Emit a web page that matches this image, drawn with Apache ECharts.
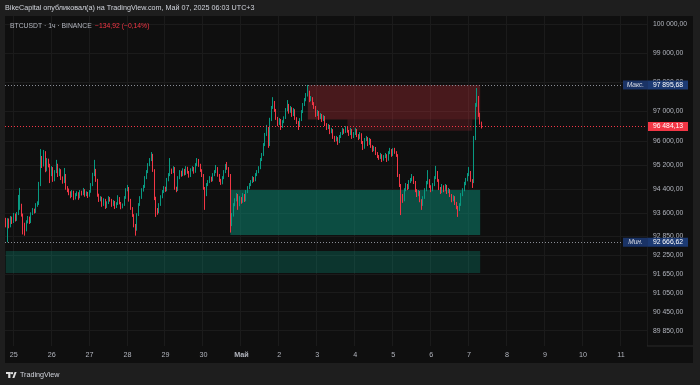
<!DOCTYPE html>
<html><head><meta charset="utf-8">
<script src="https://cdn.jsdelivr.net/npm/echarts@6/dist/echarts.min.js"></script>
<style>html,body{margin:0;padding:0;background:#1e1e1e}#c{width:700px;height:385px}</style>
</head><body><div id="c"></div>
<script>
// ---- data ----
const dayLabels = ['25','26','27','28','29','30','Май','2','3','4','5','6','7','8','9','10','11'];
const firstDayIndex = 5;      // hourly slot of Apr 25 00:00 (series starts Apr 24 19:00)
const slotCount = 406;        // hourly slots shown on the time axis
const priceTicks = [100000, 99000, 98000, 97000, 96000, 95200, 94400, 93600, 92850, 92250, 91650, 91050, 90450, 89850];
const firstOpen = 93400;
const closes = [
93230,93390,93190,93460,93320,93550,93390,93590,93780,93880,
93550,93230,93070,93320,93460,93320,93590,93720,93650,93880,
93910,94540,95430,95200,95630,95030,95370,95200,94870,95100,
94700,94970,95200,94870,95030,94770,94640,94870,94440,94370,
94270,94180,94310,94110,94210,94270,94140,94310,94240,94370,
94210,94270,94180,94310,94540,94870,95030,94700,94210,94040,
94110,93880,94040,93810,93950,94110,94040,93880,93980,93810,
93910,94110,93950,93810,93880,94110,94370,94440,94040,93780,
93550,93230,93070,93550,93880,94110,94370,94470,94770,94970,
95200,95370,95530,95030,94110,93720,93650,93880,94140,94310,
94440,94370,94700,94870,95030,94970,95100,94440,94370,94770,
94970,94870,95030,94900,95100,94970,94840,95030,95100,94970,
95200,95370,95200,95030,94870,94440,94210,94540,94640,94770,
94700,94870,94970,95100,94870,94700,94600,94770,94970,95170,
95100,94870,93230,93550,93880,94040,94210,93880,94110,93980,
94210,94040,94310,94440,94540,94640,94770,94700,94870,94970,
95100,95370,95530,95870,96200,96440,95870,96710,97110,97320,
97040,96770,96570,96710,96470,96640,96770,97040,97210,96980,
97110,96880,97040,96770,96640,96500,96710,96980,97210,97380,
97550,97660,97380,97450,97280,97150,96880,96980,96770,96880,
96710,96810,96570,96440,96500,96300,96370,96130,96030,96100,
95970,96130,96240,96370,96300,96440,96340,96230,96370,96130,
96240,96370,96200,96100,96230,95970,95770,96030,96100,95900,
96030,95830,95700,95770,95600,95500,95430,95530,95370,95470,
95530,95370,95600,95700,95530,95700,95630,95530,94870,94540,
94210,94040,94370,94540,94440,94640,94700,94800,94640,94370,
94210,94310,94040,93880,94110,94370,94600,94700,94500,94370,
94540,94770,94970,94700,94440,94310,94500,94370,94500,94310,
94370,94210,94040,94140,93950,93810,93720,93880,94210,94370,
94570,94700,94870,94970,94700,94640,96100,97210,97450,96880,
96619.05,96484.13];
const highs = [
93460,93450,93440,93520,93500,93620,93600,93650,94210,94440,
93920,93600,93300,93380,93520,93500,93640,93780,93760,93940,
94000,94640,95730,95500,95700,95660,95430,95410,95240,95160,
95130,95030,95370,95240,95090,95060,94820,95100,94900,94500,
94420,94330,94370,94350,94270,94330,94300,94370,94350,94440,
94400,94330,94310,94370,94600,94940,95370,95070,94740,94250,
94170,94150,94100,94080,94000,94170,94140,94080,94040,94010,
93970,94200,94140,93980,93930,94170,94430,94540,94470,94080,
93810,93580,93260,93610,93940,94170,94430,94540,94830,95030,
95260,95430,95630,95570,95060,94150,93780,93940,94200,94370,
94500,94480,94770,94930,95430,95080,95160,95130,94480,94830,
95030,95010,95090,95070,95160,95140,95000,95090,95160,95130,
95260,95430,95400,95240,95060,94900,94470,94600,94700,94830,
94810,94930,95030,95200,95130,94900,94740,94830,95030,95230,
95300,95130,94900,93620,93940,94100,94270,94240,94170,94140,
94270,94240,94370,94500,94600,94700,94830,94800,94930,95030,
95160,95430,95600,95930,96270,96540,96470,96780,97180,97480,
97350,97080,96810,96770,96740,96700,96830,97110,97380,97250,
97180,97140,97110,97070,96800,96670,96770,97040,97280,97450,
97620,97895.68,97700,97520,97480,97310,97180,97040,97010,96940,
96910,96870,96840,96600,96570,96540,96440,96400,96170,96170,
96130,96200,96300,96440,96410,96500,96470,96370,96440,96400,
96300,96440,96400,96230,96300,96260,96000,96100,96170,96130,
96100,96070,95860,95830,95800,95630,95530,95600,95560,95530,
95600,95560,95660,95770,95730,95760,95770,95660,95560,94900,
94570,94240,94430,94600,94570,94700,94770,94900,94830,94670,
94400,94370,94340,94070,94170,94430,94670,95030,94730,94530,
94600,94830,95170,95000,94730,94470,94570,94530,94570,94540,
94440,94400,94240,94200,94170,93980,93850,93940,94270,94430,
94640,94770,94930,95130,95000,94730,96170,97280,97790,97520,
96950,96650];
const lows = [
93150,92666.62,93120,93150,93260,93290,93340,93360,93550,93720,
93500,92920,92880,93020,93280,93260,93290,93550,93600,93620,
93820,93880,94500,95100,95150,94960,94990,95120,94600,94830,
94640,94660,94930,94800,94830,94700,94580,94600,94380,94300,
94200,94100,94140,94040,94060,94170,94050,94100,94190,94200,
94150,94170,94110,94150,94280,94500,94830,94640,94150,93980,
94000,93820,93850,93750,93780,93910,93990,93820,93850,93750,
93780,93880,93900,93740,93770,93850,94080,94330,93990,93720,
93490,93150,92880,93040,93520,93850,94080,94320,94440,94730,
94930,95160,95330,94970,94040,93490,93560,93610,93850,94100,
94270,94310,94330,94660,94830,94900,94930,94380,94300,94340,
94730,94810,94830,94850,94870,94910,94780,94800,94990,94910,
94940,95160,95140,94970,94800,94380,93720,94170,94500,94600,
94640,94660,94830,94930,94810,94640,94540,94560,94730,94930,
95040,94800,92980,93190,93500,93840,94000,93720,93840,93920,
93950,93980,94000,94270,94400,94500,94600,94640,94660,94830,
94930,95060,95330,95500,95830,96170,95770,95830,96670,97080,
96980,96710,96500,96540,96370,96440,96600,96740,97000,96920,
96950,96810,96840,96710,96570,96370,96470,96670,96940,97180,
97340,97500,97310,97340,97210,97080,96810,96840,96710,96740,
96640,96670,96500,96370,96400,96230,96260,96070,95970,95990,
95870,95930,96100,96200,96240,96270,96280,96170,96200,96070,
96100,96200,96130,96030,96070,95900,95700,95740,96000,95830,
95870,95770,95630,95660,95530,95430,95370,95400,95300,95340,
95430,95300,95340,95560,95470,95500,95570,95470,94800,94470,
93550,93950,94000,94330,94370,94400,94600,94660,94570,94300,
94140,94170,93970,93720,93850,94080,94330,94560,94440,94300,
94330,94500,94730,94640,94370,94240,94270,94300,94330,94240,
94270,94140,93970,94000,93880,93740,93490,93680,93850,94170,
94330,94530,94660,94830,94640,94440,94600,96030,97150,96810,
96550,96420];
const maxPrice = 97895.68, minPrice = 92666.62, lastPrice = 96484.13;
// zones: [fromSlot, toSlot, upperPrice, lowerPrice]
const supplyZone  = [191, 300, 97895.68, 96720];
const supplyBand  = [216, 295, 96720, 96340];
const demandZone  = [142, 300, 94373, 92902];
const demandZone2 = [0, 300, 92385, 91680];

// ---- build ----
const UP = '#089981', DOWN = '#f23645';
const cats = Array.from({length: slotCount}, (_, i) => String(i));
const candles = closes.map((c, i) => [i === 0 ? firstOpen : closes[i - 1], c, lows[i], highs[i]]);
function fmt(v) { const p = v.toFixed(2).split('.'); return p[0].replace(/\B(?=(\d{3})+(?!\d))/g, ' ') + ',' + p[1]; }
const isDay = i => i >= firstDayIndex && (i - firstDayIndex) % 24 === 0;
const zoneArea = (z, color) => [{xAxis: String(z[0]), yAxis: z[2], itemStyle: {color}}, {xAxis: String(z[1]), yAxis: z[3]}];
const FONT = '"Liberation Sans", sans-serif';

const chart = echarts.init(document.getElementById('c'), null, {renderer: 'canvas'});
chart.setOption({
  backgroundColor: '#1e1e1e',
  animation: false,
  grid: {left: 5, right: 53, top: 16, bottom: 39},
  xAxis: {
    type: 'category', data: cats, boundaryGap: true,
    axisLine: {show: false}, axisTick: {show: false},
    axisLabel: {
      interval: (i) => isDay(i), color: '#b2b5be', fontSize: 7.2, fontFamily: FONT, margin: 6,
      formatter: (v, i) => { const s = dayLabels[(i - firstDayIndex) / 24]; return s === 'Май' ? '{b|Май}' : s; },
      rich: {b: {fontWeight: 'bold', fontSize: 7.2, color: '#b2b5be', fontFamily: FONT}}
    },
    splitLine: {show: true, interval: (i) => isDay(i), lineStyle: {color: '#1b1b1b', width: 1}}
  },
  yAxis: {
    type: 'log', logBase: 10, position: 'right', min: 89372, max: 100280, scale: true,
    axisLine: {show: false},
    axisTick: {show: false, customValues: priceTicks},
    axisLabel: {customValues: priceTicks, formatter: v => fmt(v), color: '#b2b5be', fontSize: 6.8, fontFamily: FONT, margin: 6},
    splitLine: {show: true, lineStyle: {color: '#1b1b1b', width: 1}}
  },
  series: [{
    type: 'candlestick', data: candles, barWidth: 1,
    itemStyle: {color: UP, color0: DOWN, borderColor: UP, borderColor0: DOWN, borderWidth: 1},
    markArea: {
      silent: true,
      data: [
        zoneArea(demandZone2, 'rgba(8,153,129,0.28)'),
        zoneArea(demandZone, 'rgba(8,153,129,0.45)'),
        zoneArea(supplyZone, 'rgba(242,54,69,0.25)'),
        zoneArea(supplyBand, 'rgba(242,54,69,0.17)')
      ]
    },
    markLine: {
      silent: true, symbol: 'none', label: {show: false},
      data: [
        {yAxis: maxPrice, lineStyle: {color: '#8a8d96', type: [1, 2], width: 1}},
        {yAxis: minPrice, lineStyle: {color: '#8a8d96', type: [1, 2], width: 1}},
        {yAxis: lastPrice, lineStyle: {color: DOWN, type: [1, 2], width: 1}}
      ]
    }
  }]
});

const yOf = v => chart.convertToPixel({yAxisIndex: 0}, v);
function tag(y, title, value, bg, bg2) {
  const els = [];
  if (title) {
    els.push({type: 'rect', shape: {x: 623, y: y - 4.5, width: 25, height: 9}, style: {fill: bg2}, z: 100});
    els.push({type: 'text', style: {x: 635.5, y: y, text: title, fill: '#d8dbe3', font: 'italic 6.6px ' + FONT, align: 'center', verticalAlign: 'middle'}, z: 101});
  }
  els.push({type: 'rect', shape: {x: 648, y: y - 4.5, width: 40, height: 9}, style: {fill: bg}, z: 100});
  els.push({type: 'text', style: {x: 668, y: y, text: value, fill: '#ffffff', font: '6.8px ' + FONT, align: 'center', verticalAlign: 'middle'}, z: 101});
  return els;
}
const graphics = [
  {type: 'rect', shape: {x: 5, y: 16, width: 688, height: 347}, style: {fill: '#0f0f0f'}, z: -100, silent: true},
  {type: 'line', shape: {x1: 647, y1: 346, x2: 693, y2: 346}, style: {stroke: '#2a2a2a', lineWidth: 1}, z: 5},
  {type: 'text', style: {x: 5, y: 8, text: 'BikeCapital опубликовал(а) на TradingView.com, Май 07, 2025 06:03 UTC+3', fill: '#d1d4dc', font: '7.2px ' + FONT, verticalAlign: 'middle'}, z: 50},
  {type: 'text', style: {x: 10, y: 26, text: 'BTCUSDT · 1ч · BINANCE', fill: '#b2b5be', font: '6.8px ' + FONT, verticalAlign: 'middle'}, z: 50},
  {type: 'text', style: {x: 95, y: 26, text: '−134,92 (−0,14%)', fill: DOWN, font: '6.8px ' + FONT, verticalAlign: 'middle'}, z: 50},
  {type: 'rect', shape: {x: 6, y: 372, width: 4.6, height: 2}, style: {fill: '#e0e0e0'}, z: 50},
  {type: 'rect', shape: {x: 8.2, y: 372, width: 2.2, height: 6}, style: {fill: '#e0e0e0'}, z: 50},
  {type: 'circle', shape: {cx: 12, cy: 373.1, r: 1.2}, style: {fill: '#e0e0e0'}, z: 50},
  {type: 'polygon', shape: {points: [[12.3, 378], [14.6, 372], [16.6, 372], [14.4, 378]]}, style: {fill: '#e0e0e0'}, z: 50},
  {type: 'text', style: {x: 20, y: 375.5, text: 'TradingView', fill: '#d1d4dc', font: '7.2px ' + FONT, verticalAlign: 'middle'}, z: 50}
]
  .concat(tag(yOf(maxPrice), 'Макс.', fmt(maxPrice), '#1c3a73', '#1a3366'))
  .concat(tag(yOf(minPrice), 'Мин.', fmt(minPrice), '#1c3a73', '#1a3366'))
  .concat(tag(yOf(lastPrice), null, fmt(lastPrice), '#f23645'));
chart.setOption({graphic: graphics});
</script></body></html>
